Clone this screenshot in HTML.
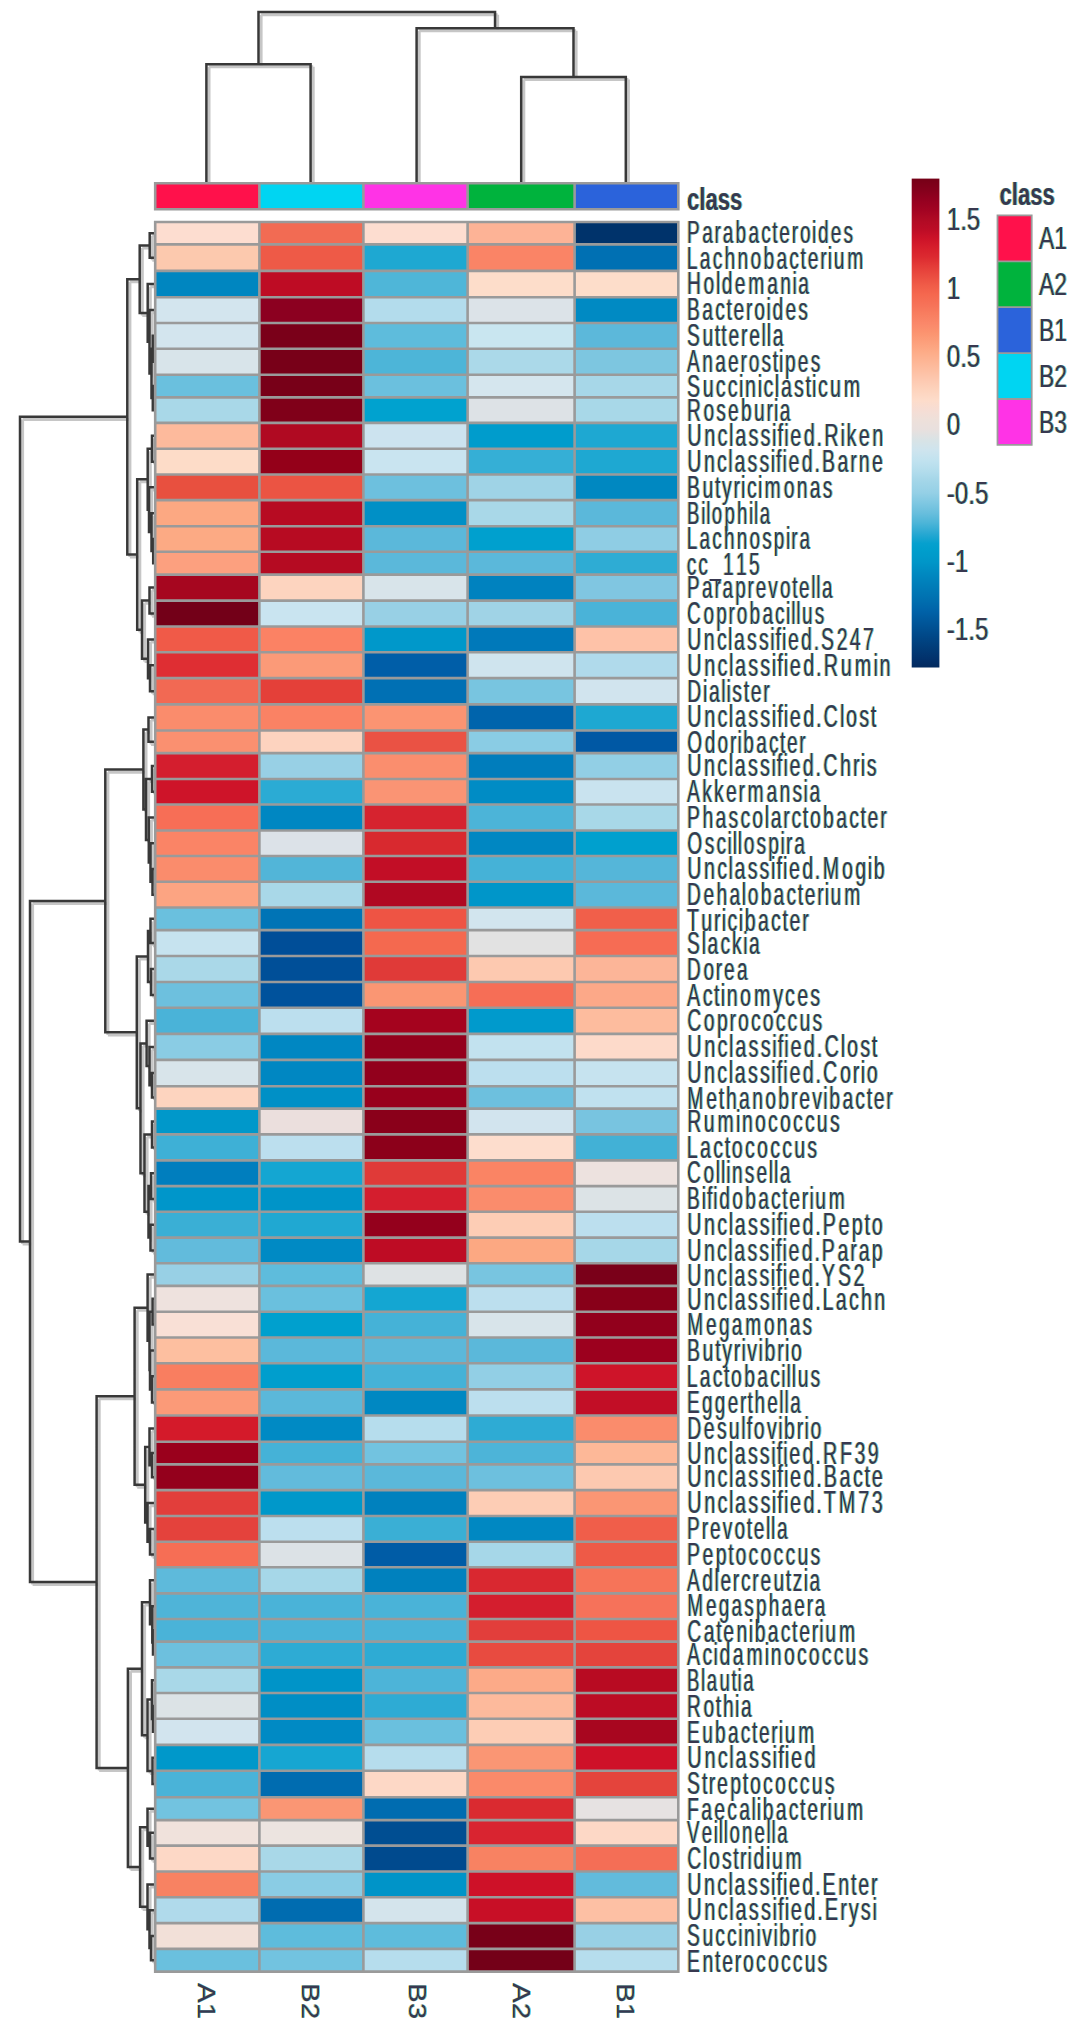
<!DOCTYPE html>
<html><head><meta charset="utf-8"><title>heatmap</title>
<style>
html,body{margin:0;padding:0;background:#fff;}
body{width:1073px;height:2034px;overflow:hidden;}
svg{display:block;filter:blur(0.45px);}
text{font-family:"Liberation Sans",sans-serif;}
</style></head><body>
<svg width="1073" height="2034" viewBox="0 0 1073 2034">
<rect x="0" y="0" width="1073" height="2034" fill="#fff"/>
<path d="M149.70 233.20L149.70 257.65M149.70 233.20L154.00 233.20M149.70 257.65L154.00 257.65M152.80 335.85L152.80 361.70M152.80 335.85L154.00 335.85M152.80 361.70L154.00 361.70M152.80 386.05L152.80 410.15M152.80 386.05L154.00 386.05M152.80 410.15L154.00 410.15M151.50 348.77L151.50 398.10M151.50 348.77L152.80 348.77M151.50 398.10L152.80 398.10M149.50 310.10L149.50 373.44M149.50 310.10L154.00 310.10M149.50 373.44L151.50 373.44M147.70 284.05L147.70 341.77M147.70 284.05L154.00 284.05M147.70 341.77L149.50 341.77M139.70 245.42L139.70 312.91M139.70 245.42L149.70 245.42M139.70 312.91L147.70 312.91M152.00 435.85L152.00 461.65M152.00 435.85L154.00 435.85M152.00 461.65L154.00 461.65M153.20 538.95L153.20 563.15M153.20 538.95L154.00 538.95M153.20 563.15L154.00 563.15M151.50 513.15L151.50 551.05M151.50 513.15L154.00 513.15M151.50 551.05L153.20 551.05M149.00 487.30L149.00 532.10M149.00 487.30L154.00 487.30M149.00 532.10L151.50 532.10M147.70 448.75L147.70 509.70M147.70 448.75L152.00 448.75M147.70 509.70L149.00 509.70M149.50 587.60L149.50 613.55M149.50 587.60L154.00 587.60M149.50 613.55L154.00 613.55M150.00 665.20L150.00 691.25M150.00 665.20L154.00 665.20M150.00 691.25L154.00 691.25M148.00 639.40L148.00 678.23M148.00 639.40L154.00 639.40M148.00 678.23L150.00 678.23M142.00 600.58L142.00 658.81M142.00 600.58L149.50 600.58M142.00 658.81L148.00 658.81M137.20 479.23L137.20 629.69M137.20 479.23L147.70 479.23M137.20 629.69L142.00 629.69M127.30 279.17L127.30 554.46M127.30 279.17L139.70 279.17M127.30 554.46L137.20 554.46M148.50 717.45L148.50 741.80M148.50 717.45L154.00 717.45M148.50 741.80L154.00 741.80M152.00 766.05L152.00 791.75M152.00 766.05L154.00 766.05M152.00 791.75L154.00 791.75M152.50 868.90L152.50 894.65M152.50 868.90L154.00 868.90M152.50 894.65L154.00 894.65M150.50 843.25L150.50 881.77M150.50 843.25L154.00 843.25M150.50 881.77L152.50 881.77M148.80 817.50L148.80 862.51M148.80 817.50L154.00 817.50M148.80 862.51L150.50 862.51M146.00 778.90L146.00 840.01M146.00 778.90L152.00 778.90M146.00 840.01L148.80 840.01M143.40 729.62L143.40 809.45M143.40 729.62L148.50 729.62M143.40 809.45L146.00 809.45M150.50 918.80L150.50 943.05M150.50 918.80L154.00 918.80M150.50 943.05L154.00 943.05M151.00 969.00L151.00 994.90M151.00 969.00L154.00 969.00M151.00 994.90L154.00 994.90M148.00 930.92L148.00 981.95M148.00 930.92L150.50 930.92M148.00 981.95L151.00 981.95M152.00 1073.10L152.00 1097.45M152.00 1073.10L154.00 1073.10M152.00 1097.45L154.00 1097.45M149.50 1046.90L149.50 1085.27M149.50 1046.90L154.00 1046.90M149.50 1085.27L152.00 1085.27M146.60 1020.85L146.60 1066.09M146.60 1020.85L154.00 1020.85M146.60 1066.09L149.50 1066.09M152.00 1121.50L152.00 1147.40M152.00 1121.50L154.00 1121.50M152.00 1147.40L154.00 1147.40M151.00 1173.25L151.00 1198.95M151.00 1173.25L154.00 1173.25M151.00 1198.95L154.00 1198.95M150.50 1224.70L150.50 1250.45M150.50 1224.70L154.00 1224.70M150.50 1250.45L154.00 1250.45M148.50 1186.10L148.50 1237.57M148.50 1186.10L151.00 1186.10M148.50 1237.57L150.50 1237.57M144.50 1134.45L144.50 1211.84M144.50 1134.45L152.00 1134.45M144.50 1211.84L148.50 1211.84M140.50 1043.47L140.50 1173.14M140.50 1043.47L146.60 1043.47M140.50 1173.14L144.50 1173.14M136.80 956.44L136.80 1108.31M136.80 956.44L148.00 956.44M136.80 1108.31L140.50 1108.31M105.30 769.54L105.30 1032.37M105.30 769.54L143.40 769.54M105.30 1032.37L136.80 1032.37M152.60 1298.80L152.60 1324.60M152.60 1298.80L154.00 1298.80M152.60 1324.60L154.00 1324.60M152.00 1376.35L152.00 1402.45M152.00 1376.35L154.00 1376.35M152.00 1402.45L154.00 1402.45M150.00 1350.40L150.00 1389.40M150.00 1350.40L154.00 1350.40M150.00 1389.40L152.00 1389.40M149.50 1311.70L149.50 1369.90M149.50 1311.70L152.60 1311.70M149.50 1369.90L150.00 1369.90M147.60 1274.60L147.60 1340.80M147.60 1274.60L154.00 1274.60M147.60 1340.80L149.50 1340.80M152.00 1453.05L152.00 1477.25M152.00 1453.05L154.00 1453.05M152.00 1477.25L154.00 1477.25M149.50 1428.60L149.50 1465.15M149.50 1428.60L154.00 1428.60M149.50 1465.15L152.00 1465.15M150.00 1528.90L150.00 1554.55M150.00 1528.90L154.00 1528.90M150.00 1554.55L154.00 1554.55M147.50 1503.05L147.50 1541.72M147.50 1503.05L154.00 1503.05M147.50 1541.72L150.00 1541.72M145.20 1446.88L145.20 1522.39M145.20 1446.88L149.50 1446.88M145.20 1522.39L147.50 1522.39M134.60 1307.70L134.60 1484.63M134.60 1307.70L147.60 1307.70M134.60 1484.63L145.20 1484.63M153.00 1630.30L153.00 1654.50M153.00 1630.30L154.00 1630.30M153.00 1654.50L154.00 1654.50M152.30 1606.20L152.30 1642.40M152.30 1606.20L154.00 1606.20M152.30 1642.40L153.00 1642.40M150.00 1580.35L150.00 1624.30M150.00 1580.35L154.00 1580.35M150.00 1624.30L152.30 1624.30M153.00 1705.90L153.00 1731.85M153.00 1705.90L154.00 1705.90M153.00 1731.85L154.00 1731.85M152.00 1680.20L152.00 1718.88M152.00 1680.20L154.00 1680.20M152.00 1718.88L153.00 1718.88M152.50 1757.80L152.50 1784.00M152.50 1757.80L154.00 1757.80M152.50 1784.00L154.00 1784.00M147.50 1699.54L147.50 1770.90M147.50 1699.54L152.00 1699.54M147.50 1770.90L152.50 1770.90M142.00 1602.33L142.00 1735.22M142.00 1602.33L150.00 1602.33M142.00 1735.22L147.50 1735.22M150.00 1832.85L150.00 1858.55M150.00 1832.85L154.00 1832.85M150.00 1858.55L154.00 1858.55M147.50 1808.70L147.50 1845.70M147.50 1808.70L154.00 1808.70M147.50 1845.70L150.00 1845.70M151.00 1936.00L151.00 1960.25M151.00 1936.00L154.00 1936.00M151.00 1960.25L154.00 1960.25M149.50 1910.20L149.50 1948.12M149.50 1910.20L154.00 1910.20M149.50 1948.12L151.00 1948.12M147.50 1884.40L147.50 1929.16M147.50 1884.40L154.00 1884.40M147.50 1929.16L149.50 1929.16M140.10 1827.20L140.10 1906.78M140.10 1827.20L147.50 1827.20M140.10 1906.78L147.50 1906.78M127.90 1668.77L127.90 1866.99M127.90 1668.77L142.00 1668.77M127.90 1866.99L140.10 1866.99M96.60 1396.17L96.60 1767.88M96.60 1396.17L134.60 1396.17M96.60 1767.88L127.90 1767.88M30.00 900.96L30.00 1582.02M30.00 900.96L105.30 900.96M30.00 1582.02L96.60 1582.02M20.00 416.81L20.00 1241.49M20.00 416.81L127.30 416.81M20.00 1241.49L30.00 1241.49M206.40 183.30L206.40 64.20M310.60 183.30L310.60 64.20M206.40 64.20L310.60 64.20M521.20 183.30L521.20 77.00M625.80 183.30L625.80 77.00M521.20 77.00L625.80 77.00M416.60 183.30L416.60 28.20M573.50 77.00L573.50 28.20M416.60 28.20L573.50 28.20M258.50 64.20L258.50 12.10M495.05 28.20L495.05 12.10M258.50 12.10L495.05 12.10" stroke="#c6c6c6" stroke-width="3" fill="none" transform="translate(2.6 2.6)"/>
<path d="M149.70 233.20L149.70 257.65M149.70 233.20L154.00 233.20M149.70 257.65L154.00 257.65M152.80 335.85L152.80 361.70M152.80 335.85L154.00 335.85M152.80 361.70L154.00 361.70M152.80 386.05L152.80 410.15M152.80 386.05L154.00 386.05M152.80 410.15L154.00 410.15M151.50 348.77L151.50 398.10M151.50 348.77L152.80 348.77M151.50 398.10L152.80 398.10M149.50 310.10L149.50 373.44M149.50 310.10L154.00 310.10M149.50 373.44L151.50 373.44M147.70 284.05L147.70 341.77M147.70 284.05L154.00 284.05M147.70 341.77L149.50 341.77M139.70 245.42L139.70 312.91M139.70 245.42L149.70 245.42M139.70 312.91L147.70 312.91M152.00 435.85L152.00 461.65M152.00 435.85L154.00 435.85M152.00 461.65L154.00 461.65M153.20 538.95L153.20 563.15M153.20 538.95L154.00 538.95M153.20 563.15L154.00 563.15M151.50 513.15L151.50 551.05M151.50 513.15L154.00 513.15M151.50 551.05L153.20 551.05M149.00 487.30L149.00 532.10M149.00 487.30L154.00 487.30M149.00 532.10L151.50 532.10M147.70 448.75L147.70 509.70M147.70 448.75L152.00 448.75M147.70 509.70L149.00 509.70M149.50 587.60L149.50 613.55M149.50 587.60L154.00 587.60M149.50 613.55L154.00 613.55M150.00 665.20L150.00 691.25M150.00 665.20L154.00 665.20M150.00 691.25L154.00 691.25M148.00 639.40L148.00 678.23M148.00 639.40L154.00 639.40M148.00 678.23L150.00 678.23M142.00 600.58L142.00 658.81M142.00 600.58L149.50 600.58M142.00 658.81L148.00 658.81M137.20 479.23L137.20 629.69M137.20 479.23L147.70 479.23M137.20 629.69L142.00 629.69M127.30 279.17L127.30 554.46M127.30 279.17L139.70 279.17M127.30 554.46L137.20 554.46M148.50 717.45L148.50 741.80M148.50 717.45L154.00 717.45M148.50 741.80L154.00 741.80M152.00 766.05L152.00 791.75M152.00 766.05L154.00 766.05M152.00 791.75L154.00 791.75M152.50 868.90L152.50 894.65M152.50 868.90L154.00 868.90M152.50 894.65L154.00 894.65M150.50 843.25L150.50 881.77M150.50 843.25L154.00 843.25M150.50 881.77L152.50 881.77M148.80 817.50L148.80 862.51M148.80 817.50L154.00 817.50M148.80 862.51L150.50 862.51M146.00 778.90L146.00 840.01M146.00 778.90L152.00 778.90M146.00 840.01L148.80 840.01M143.40 729.62L143.40 809.45M143.40 729.62L148.50 729.62M143.40 809.45L146.00 809.45M150.50 918.80L150.50 943.05M150.50 918.80L154.00 918.80M150.50 943.05L154.00 943.05M151.00 969.00L151.00 994.90M151.00 969.00L154.00 969.00M151.00 994.90L154.00 994.90M148.00 930.92L148.00 981.95M148.00 930.92L150.50 930.92M148.00 981.95L151.00 981.95M152.00 1073.10L152.00 1097.45M152.00 1073.10L154.00 1073.10M152.00 1097.45L154.00 1097.45M149.50 1046.90L149.50 1085.27M149.50 1046.90L154.00 1046.90M149.50 1085.27L152.00 1085.27M146.60 1020.85L146.60 1066.09M146.60 1020.85L154.00 1020.85M146.60 1066.09L149.50 1066.09M152.00 1121.50L152.00 1147.40M152.00 1121.50L154.00 1121.50M152.00 1147.40L154.00 1147.40M151.00 1173.25L151.00 1198.95M151.00 1173.25L154.00 1173.25M151.00 1198.95L154.00 1198.95M150.50 1224.70L150.50 1250.45M150.50 1224.70L154.00 1224.70M150.50 1250.45L154.00 1250.45M148.50 1186.10L148.50 1237.57M148.50 1186.10L151.00 1186.10M148.50 1237.57L150.50 1237.57M144.50 1134.45L144.50 1211.84M144.50 1134.45L152.00 1134.45M144.50 1211.84L148.50 1211.84M140.50 1043.47L140.50 1173.14M140.50 1043.47L146.60 1043.47M140.50 1173.14L144.50 1173.14M136.80 956.44L136.80 1108.31M136.80 956.44L148.00 956.44M136.80 1108.31L140.50 1108.31M105.30 769.54L105.30 1032.37M105.30 769.54L143.40 769.54M105.30 1032.37L136.80 1032.37M152.60 1298.80L152.60 1324.60M152.60 1298.80L154.00 1298.80M152.60 1324.60L154.00 1324.60M152.00 1376.35L152.00 1402.45M152.00 1376.35L154.00 1376.35M152.00 1402.45L154.00 1402.45M150.00 1350.40L150.00 1389.40M150.00 1350.40L154.00 1350.40M150.00 1389.40L152.00 1389.40M149.50 1311.70L149.50 1369.90M149.50 1311.70L152.60 1311.70M149.50 1369.90L150.00 1369.90M147.60 1274.60L147.60 1340.80M147.60 1274.60L154.00 1274.60M147.60 1340.80L149.50 1340.80M152.00 1453.05L152.00 1477.25M152.00 1453.05L154.00 1453.05M152.00 1477.25L154.00 1477.25M149.50 1428.60L149.50 1465.15M149.50 1428.60L154.00 1428.60M149.50 1465.15L152.00 1465.15M150.00 1528.90L150.00 1554.55M150.00 1528.90L154.00 1528.90M150.00 1554.55L154.00 1554.55M147.50 1503.05L147.50 1541.72M147.50 1503.05L154.00 1503.05M147.50 1541.72L150.00 1541.72M145.20 1446.88L145.20 1522.39M145.20 1446.88L149.50 1446.88M145.20 1522.39L147.50 1522.39M134.60 1307.70L134.60 1484.63M134.60 1307.70L147.60 1307.70M134.60 1484.63L145.20 1484.63M153.00 1630.30L153.00 1654.50M153.00 1630.30L154.00 1630.30M153.00 1654.50L154.00 1654.50M152.30 1606.20L152.30 1642.40M152.30 1606.20L154.00 1606.20M152.30 1642.40L153.00 1642.40M150.00 1580.35L150.00 1624.30M150.00 1580.35L154.00 1580.35M150.00 1624.30L152.30 1624.30M153.00 1705.90L153.00 1731.85M153.00 1705.90L154.00 1705.90M153.00 1731.85L154.00 1731.85M152.00 1680.20L152.00 1718.88M152.00 1680.20L154.00 1680.20M152.00 1718.88L153.00 1718.88M152.50 1757.80L152.50 1784.00M152.50 1757.80L154.00 1757.80M152.50 1784.00L154.00 1784.00M147.50 1699.54L147.50 1770.90M147.50 1699.54L152.00 1699.54M147.50 1770.90L152.50 1770.90M142.00 1602.33L142.00 1735.22M142.00 1602.33L150.00 1602.33M142.00 1735.22L147.50 1735.22M150.00 1832.85L150.00 1858.55M150.00 1832.85L154.00 1832.85M150.00 1858.55L154.00 1858.55M147.50 1808.70L147.50 1845.70M147.50 1808.70L154.00 1808.70M147.50 1845.70L150.00 1845.70M151.00 1936.00L151.00 1960.25M151.00 1936.00L154.00 1936.00M151.00 1960.25L154.00 1960.25M149.50 1910.20L149.50 1948.12M149.50 1910.20L154.00 1910.20M149.50 1948.12L151.00 1948.12M147.50 1884.40L147.50 1929.16M147.50 1884.40L154.00 1884.40M147.50 1929.16L149.50 1929.16M140.10 1827.20L140.10 1906.78M140.10 1827.20L147.50 1827.20M140.10 1906.78L147.50 1906.78M127.90 1668.77L127.90 1866.99M127.90 1668.77L142.00 1668.77M127.90 1866.99L140.10 1866.99M96.60 1396.17L96.60 1767.88M96.60 1396.17L134.60 1396.17M96.60 1767.88L127.90 1767.88M30.00 900.96L30.00 1582.02M30.00 900.96L105.30 900.96M30.00 1582.02L96.60 1582.02M20.00 416.81L20.00 1241.49M20.00 416.81L127.30 416.81M20.00 1241.49L30.00 1241.49M206.40 183.30L206.40 64.20M310.60 183.30L310.60 64.20M206.40 64.20L310.60 64.20M521.20 183.30L521.20 77.00M625.80 183.30L625.80 77.00M521.20 77.00L625.80 77.00M416.60 183.30L416.60 28.20M573.50 77.00L573.50 28.20M416.60 28.20L573.50 28.20M258.50 64.20L258.50 12.10M495.05 28.20L495.05 12.10M258.50 12.10L495.05 12.10" stroke="#383838" stroke-width="2.5" fill="none" stroke-linecap="square"/>
<rect x="155.2" y="222.0" width="104.2" height="22.4" fill="#FDDDD0"/>
<rect x="259.4" y="222.0" width="104.0" height="22.4" fill="#F26B53"/>
<rect x="363.4" y="222.0" width="104.2" height="22.4" fill="#FDDDD0"/>
<rect x="467.6" y="222.0" width="107.0" height="22.4" fill="#FDB396"/>
<rect x="574.6" y="222.0" width="103.7" height="22.4" fill="#00336B"/>
<rect x="155.2" y="244.4" width="104.2" height="26.5" fill="#FCC9AE"/>
<rect x="259.4" y="244.4" width="104.0" height="26.5" fill="#EE5A47"/>
<rect x="363.4" y="244.4" width="104.2" height="26.5" fill="#1EA8D2"/>
<rect x="467.6" y="244.4" width="107.0" height="26.5" fill="#FA8466"/>
<rect x="574.6" y="244.4" width="103.7" height="26.5" fill="#0070B3"/>
<rect x="155.2" y="270.9" width="104.2" height="26.3" fill="#0086C0"/>
<rect x="259.4" y="270.9" width="104.0" height="26.3" fill="#BE0C24"/>
<rect x="363.4" y="270.9" width="104.2" height="26.3" fill="#4FB6D8"/>
<rect x="467.6" y="270.9" width="107.0" height="26.3" fill="#FDDDCA"/>
<rect x="574.6" y="270.9" width="103.7" height="26.3" fill="#FDDDCA"/>
<rect x="155.2" y="297.2" width="104.2" height="25.8" fill="#D3E5EE"/>
<rect x="259.4" y="297.2" width="104.0" height="25.8" fill="#8C0020"/>
<rect x="363.4" y="297.2" width="104.2" height="25.8" fill="#B3DCEC"/>
<rect x="467.6" y="297.2" width="107.0" height="25.8" fill="#DCE3E8"/>
<rect x="574.6" y="297.2" width="103.7" height="25.8" fill="#008AC3"/>
<rect x="155.2" y="323.0" width="104.2" height="25.7" fill="#D3E5EE"/>
<rect x="259.4" y="323.0" width="104.0" height="25.7" fill="#7A0019"/>
<rect x="363.4" y="323.0" width="104.2" height="25.7" fill="#5EBCDC"/>
<rect x="467.6" y="323.0" width="107.0" height="25.7" fill="#C9E6F0"/>
<rect x="574.6" y="323.0" width="103.7" height="25.7" fill="#5CB8DA"/>
<rect x="155.2" y="348.7" width="104.2" height="26.0" fill="#D8E4EA"/>
<rect x="259.4" y="348.7" width="104.0" height="26.0" fill="#780018"/>
<rect x="363.4" y="348.7" width="104.2" height="26.0" fill="#4DB5D8"/>
<rect x="467.6" y="348.7" width="107.0" height="26.0" fill="#ABD9E9"/>
<rect x="574.6" y="348.7" width="103.7" height="26.0" fill="#7DC6E0"/>
<rect x="155.2" y="374.7" width="104.2" height="22.7" fill="#6AC0DE"/>
<rect x="259.4" y="374.7" width="104.0" height="22.7" fill="#780018"/>
<rect x="363.4" y="374.7" width="104.2" height="22.7" fill="#6BC0DE"/>
<rect x="467.6" y="374.7" width="107.0" height="22.7" fill="#D5E6EE"/>
<rect x="574.6" y="374.7" width="103.7" height="22.7" fill="#A7D7E8"/>
<rect x="155.2" y="397.4" width="104.2" height="25.5" fill="#A9D8E8"/>
<rect x="259.4" y="397.4" width="104.0" height="25.5" fill="#800019"/>
<rect x="363.4" y="397.4" width="104.2" height="25.5" fill="#00A2CF"/>
<rect x="467.6" y="397.4" width="107.0" height="25.5" fill="#DDE2E6"/>
<rect x="574.6" y="397.4" width="103.7" height="25.5" fill="#A8D8E8"/>
<rect x="155.2" y="422.9" width="104.2" height="25.9" fill="#FDBA9C"/>
<rect x="259.4" y="422.9" width="104.0" height="25.9" fill="#B00A22"/>
<rect x="363.4" y="422.9" width="104.2" height="25.9" fill="#CCE3EF"/>
<rect x="467.6" y="422.9" width="107.0" height="25.9" fill="#009CCC"/>
<rect x="574.6" y="422.9" width="103.7" height="25.9" fill="#1EA8D2"/>
<rect x="155.2" y="448.8" width="104.2" height="25.7" fill="#FDDCC8"/>
<rect x="259.4" y="448.8" width="104.0" height="25.7" fill="#940019"/>
<rect x="363.4" y="448.8" width="104.2" height="25.7" fill="#C9E4F0"/>
<rect x="467.6" y="448.8" width="107.0" height="25.7" fill="#35AFD6"/>
<rect x="574.6" y="448.8" width="103.7" height="25.7" fill="#1EA8D2"/>
<rect x="155.2" y="474.5" width="104.2" height="25.6" fill="#E8503F"/>
<rect x="259.4" y="474.5" width="104.0" height="25.6" fill="#EB5443"/>
<rect x="363.4" y="474.5" width="104.2" height="25.6" fill="#6DC0DE"/>
<rect x="467.6" y="474.5" width="107.0" height="25.6" fill="#9FD3E6"/>
<rect x="574.6" y="474.5" width="103.7" height="25.6" fill="#0088C1"/>
<rect x="155.2" y="500.1" width="104.2" height="26.1" fill="#FCA882"/>
<rect x="259.4" y="500.1" width="104.0" height="26.1" fill="#B70B22"/>
<rect x="363.4" y="500.1" width="104.2" height="26.1" fill="#0090C6"/>
<rect x="467.6" y="500.1" width="107.0" height="26.1" fill="#A9D8E8"/>
<rect x="574.6" y="500.1" width="103.7" height="26.1" fill="#5BB8DA"/>
<rect x="155.2" y="526.2" width="104.2" height="25.5" fill="#FCAA84"/>
<rect x="259.4" y="526.2" width="104.0" height="25.5" fill="#B70B22"/>
<rect x="363.4" y="526.2" width="104.2" height="25.5" fill="#5BB8DA"/>
<rect x="467.6" y="526.2" width="107.0" height="25.5" fill="#00A0CE"/>
<rect x="574.6" y="526.2" width="103.7" height="25.5" fill="#8FCDE4"/>
<rect x="155.2" y="551.7" width="104.2" height="22.9" fill="#FCA07F"/>
<rect x="259.4" y="551.7" width="104.0" height="22.9" fill="#B50B22"/>
<rect x="363.4" y="551.7" width="104.2" height="22.9" fill="#5BB8DA"/>
<rect x="467.6" y="551.7" width="107.0" height="22.9" fill="#5BB8DA"/>
<rect x="574.6" y="551.7" width="103.7" height="22.9" fill="#2EACD4"/>
<rect x="155.2" y="574.6" width="104.2" height="26.0" fill="#A6061F"/>
<rect x="259.4" y="574.6" width="104.0" height="26.0" fill="#FDD4BF"/>
<rect x="363.4" y="574.6" width="104.2" height="26.0" fill="#D8E4EA"/>
<rect x="467.6" y="574.6" width="107.0" height="26.0" fill="#0082BF"/>
<rect x="574.6" y="574.6" width="103.7" height="26.0" fill="#80C6E1"/>
<rect x="155.2" y="600.6" width="104.2" height="25.9" fill="#730018"/>
<rect x="259.4" y="600.6" width="104.0" height="25.9" fill="#C9E4F0"/>
<rect x="363.4" y="600.6" width="104.2" height="25.9" fill="#98D0E5"/>
<rect x="467.6" y="600.6" width="107.0" height="25.9" fill="#A0D3E6"/>
<rect x="574.6" y="600.6" width="103.7" height="25.9" fill="#4AB3D8"/>
<rect x="155.2" y="626.5" width="104.2" height="25.8" fill="#F05A48"/>
<rect x="259.4" y="626.5" width="104.0" height="25.8" fill="#FB8264"/>
<rect x="363.4" y="626.5" width="104.2" height="25.8" fill="#0098CA"/>
<rect x="467.6" y="626.5" width="107.0" height="25.8" fill="#0079BA"/>
<rect x="574.6" y="626.5" width="103.7" height="25.8" fill="#FEC2A8"/>
<rect x="155.2" y="652.3" width="104.2" height="25.8" fill="#DF2E33"/>
<rect x="259.4" y="652.3" width="104.0" height="25.8" fill="#FB9A78"/>
<rect x="363.4" y="652.3" width="104.2" height="25.8" fill="#005EA8"/>
<rect x="467.6" y="652.3" width="107.0" height="25.8" fill="#CFE4EE"/>
<rect x="574.6" y="652.3" width="103.7" height="25.8" fill="#B0DAEB"/>
<rect x="155.2" y="678.1" width="104.2" height="26.3" fill="#F26953"/>
<rect x="259.4" y="678.1" width="104.0" height="26.3" fill="#E44039"/>
<rect x="363.4" y="678.1" width="104.2" height="26.3" fill="#0070B4"/>
<rect x="467.6" y="678.1" width="107.0" height="26.3" fill="#78C5E0"/>
<rect x="574.6" y="678.1" width="103.7" height="26.3" fill="#D1E4EE"/>
<rect x="155.2" y="704.4" width="104.2" height="26.1" fill="#FA8C6C"/>
<rect x="259.4" y="704.4" width="104.0" height="26.1" fill="#FA8264"/>
<rect x="363.4" y="704.4" width="104.2" height="26.1" fill="#FB9472"/>
<rect x="467.6" y="704.4" width="107.0" height="26.1" fill="#0064AC"/>
<rect x="574.6" y="704.4" width="103.7" height="26.1" fill="#1EA8D2"/>
<rect x="155.2" y="730.5" width="104.2" height="22.6" fill="#FA9070"/>
<rect x="259.4" y="730.5" width="104.0" height="22.6" fill="#FDD3BF"/>
<rect x="363.4" y="730.5" width="104.2" height="22.6" fill="#EA5244"/>
<rect x="467.6" y="730.5" width="107.0" height="22.6" fill="#8ACCE4"/>
<rect x="574.6" y="730.5" width="103.7" height="22.6" fill="#0058A4"/>
<rect x="155.2" y="753.1" width="104.2" height="25.9" fill="#D41E2E"/>
<rect x="259.4" y="753.1" width="104.0" height="25.9" fill="#98D0E5"/>
<rect x="363.4" y="753.1" width="104.2" height="25.9" fill="#FA8E6E"/>
<rect x="467.6" y="753.1" width="107.0" height="25.9" fill="#007DBC"/>
<rect x="574.6" y="753.1" width="103.7" height="25.9" fill="#92CFE5"/>
<rect x="155.2" y="779.0" width="104.2" height="25.5" fill="#CE1429"/>
<rect x="259.4" y="779.0" width="104.0" height="25.5" fill="#2BABD4"/>
<rect x="363.4" y="779.0" width="104.2" height="25.5" fill="#FA9474"/>
<rect x="467.6" y="779.0" width="107.0" height="25.5" fill="#008CC5"/>
<rect x="574.6" y="779.0" width="103.7" height="25.5" fill="#C9E3EF"/>
<rect x="155.2" y="804.5" width="104.2" height="26.0" fill="#F76E56"/>
<rect x="259.4" y="804.5" width="104.0" height="26.0" fill="#0087C2"/>
<rect x="363.4" y="804.5" width="104.2" height="26.0" fill="#D6232F"/>
<rect x="467.6" y="804.5" width="107.0" height="26.0" fill="#4CB4D8"/>
<rect x="574.6" y="804.5" width="103.7" height="26.0" fill="#A8D8E8"/>
<rect x="155.2" y="830.5" width="104.2" height="25.5" fill="#FA8466"/>
<rect x="259.4" y="830.5" width="104.0" height="25.5" fill="#DCE2E8"/>
<rect x="363.4" y="830.5" width="104.2" height="25.5" fill="#D8292F"/>
<rect x="467.6" y="830.5" width="107.0" height="25.5" fill="#0087C2"/>
<rect x="574.6" y="830.5" width="103.7" height="25.5" fill="#00A0CE"/>
<rect x="155.2" y="856.0" width="104.2" height="25.8" fill="#FA8C6C"/>
<rect x="259.4" y="856.0" width="104.0" height="25.8" fill="#52B5D8"/>
<rect x="363.4" y="856.0" width="104.2" height="25.8" fill="#C20E26"/>
<rect x="467.6" y="856.0" width="107.0" height="25.8" fill="#45B2D7"/>
<rect x="574.6" y="856.0" width="103.7" height="25.8" fill="#55B6D9"/>
<rect x="155.2" y="881.8" width="104.2" height="25.7" fill="#FCA482"/>
<rect x="259.4" y="881.8" width="104.0" height="25.7" fill="#A9D8E8"/>
<rect x="363.4" y="881.8" width="104.2" height="25.7" fill="#B00822"/>
<rect x="467.6" y="881.8" width="107.0" height="25.7" fill="#0096C9"/>
<rect x="574.6" y="881.8" width="103.7" height="25.7" fill="#5BB8DA"/>
<rect x="155.2" y="907.5" width="104.2" height="22.6" fill="#6AC0DE"/>
<rect x="259.4" y="907.5" width="104.0" height="22.6" fill="#0074B6"/>
<rect x="363.4" y="907.5" width="104.2" height="22.6" fill="#EE5444"/>
<rect x="467.6" y="907.5" width="107.0" height="22.6" fill="#D2E5EE"/>
<rect x="574.6" y="907.5" width="103.7" height="22.6" fill="#F15F4A"/>
<rect x="155.2" y="930.1" width="104.2" height="25.9" fill="#C6E3EF"/>
<rect x="259.4" y="930.1" width="104.0" height="25.9" fill="#004E98"/>
<rect x="363.4" y="930.1" width="104.2" height="25.9" fill="#F4694F"/>
<rect x="467.6" y="930.1" width="107.0" height="25.9" fill="#E2E2E2"/>
<rect x="574.6" y="930.1" width="103.7" height="25.9" fill="#F66C54"/>
<rect x="155.2" y="956.0" width="104.2" height="26.0" fill="#AAD8E8"/>
<rect x="259.4" y="956.0" width="104.0" height="26.0" fill="#004F98"/>
<rect x="363.4" y="956.0" width="104.2" height="26.0" fill="#E03A38"/>
<rect x="467.6" y="956.0" width="107.0" height="26.0" fill="#FDC9B0"/>
<rect x="574.6" y="956.0" width="103.7" height="26.0" fill="#FCB598"/>
<rect x="155.2" y="982.0" width="104.2" height="25.8" fill="#6DC0DE"/>
<rect x="259.4" y="982.0" width="104.0" height="25.8" fill="#00529C"/>
<rect x="363.4" y="982.0" width="104.2" height="25.8" fill="#FA9673"/>
<rect x="467.6" y="982.0" width="107.0" height="25.8" fill="#F66E56"/>
<rect x="574.6" y="982.0" width="103.7" height="25.8" fill="#FCA888"/>
<rect x="155.2" y="1007.8" width="104.2" height="26.1" fill="#4AB3D8"/>
<rect x="259.4" y="1007.8" width="104.0" height="26.1" fill="#BCDFEE"/>
<rect x="363.4" y="1007.8" width="104.2" height="26.1" fill="#A5031E"/>
<rect x="467.6" y="1007.8" width="107.0" height="26.1" fill="#009ACC"/>
<rect x="574.6" y="1007.8" width="103.7" height="26.1" fill="#FDBC9E"/>
<rect x="155.2" y="1033.9" width="104.2" height="26.0" fill="#8ACCE4"/>
<rect x="259.4" y="1033.9" width="104.0" height="26.0" fill="#0087C2"/>
<rect x="363.4" y="1033.9" width="104.2" height="26.0" fill="#94001C"/>
<rect x="467.6" y="1033.9" width="107.0" height="26.0" fill="#C2E2EF"/>
<rect x="574.6" y="1033.9" width="103.7" height="26.0" fill="#FDDACA"/>
<rect x="155.2" y="1059.9" width="104.2" height="26.4" fill="#D8E4EA"/>
<rect x="259.4" y="1059.9" width="104.0" height="26.4" fill="#0087C2"/>
<rect x="363.4" y="1059.9" width="104.2" height="26.4" fill="#92001C"/>
<rect x="467.6" y="1059.9" width="107.0" height="26.4" fill="#BCDFEE"/>
<rect x="574.6" y="1059.9" width="103.7" height="26.4" fill="#C6E3EF"/>
<rect x="155.2" y="1086.3" width="104.2" height="22.3" fill="#FDD4BF"/>
<rect x="259.4" y="1086.3" width="104.0" height="22.3" fill="#0090C6"/>
<rect x="363.4" y="1086.3" width="104.2" height="22.3" fill="#98001C"/>
<rect x="467.6" y="1086.3" width="107.0" height="22.3" fill="#6DC0DE"/>
<rect x="574.6" y="1086.3" width="103.7" height="22.3" fill="#C0E1EF"/>
<rect x="155.2" y="1108.6" width="104.2" height="25.8" fill="#0098CA"/>
<rect x="259.4" y="1108.6" width="104.0" height="25.8" fill="#EBDFDD"/>
<rect x="363.4" y="1108.6" width="104.2" height="25.8" fill="#8A001A"/>
<rect x="467.6" y="1108.6" width="107.0" height="25.8" fill="#D2E4EE"/>
<rect x="574.6" y="1108.6" width="103.7" height="25.8" fill="#78C4E0"/>
<rect x="155.2" y="1134.4" width="104.2" height="26.0" fill="#3EB0D6"/>
<rect x="259.4" y="1134.4" width="104.0" height="26.0" fill="#BCDFEE"/>
<rect x="363.4" y="1134.4" width="104.2" height="26.0" fill="#8C001A"/>
<rect x="467.6" y="1134.4" width="107.0" height="26.0" fill="#FDDDCD"/>
<rect x="574.6" y="1134.4" width="103.7" height="26.0" fill="#42B1D6"/>
<rect x="155.2" y="1160.4" width="104.2" height="25.7" fill="#007EBE"/>
<rect x="259.4" y="1160.4" width="104.0" height="25.7" fill="#14A6D2"/>
<rect x="363.4" y="1160.4" width="104.2" height="25.7" fill="#E03A38"/>
<rect x="467.6" y="1160.4" width="107.0" height="25.7" fill="#FA8464"/>
<rect x="574.6" y="1160.4" width="103.7" height="25.7" fill="#EDE2DF"/>
<rect x="155.2" y="1186.1" width="104.2" height="25.7" fill="#0096CA"/>
<rect x="259.4" y="1186.1" width="104.0" height="25.7" fill="#0094C8"/>
<rect x="363.4" y="1186.1" width="104.2" height="25.7" fill="#D41E2E"/>
<rect x="467.6" y="1186.1" width="107.0" height="25.7" fill="#FA8C6C"/>
<rect x="574.6" y="1186.1" width="103.7" height="25.7" fill="#DCE3E6"/>
<rect x="155.2" y="1211.8" width="104.2" height="25.8" fill="#3AAFD5"/>
<rect x="259.4" y="1211.8" width="104.0" height="25.8" fill="#20A8D2"/>
<rect x="363.4" y="1211.8" width="104.2" height="25.8" fill="#94001C"/>
<rect x="467.6" y="1211.8" width="107.0" height="25.8" fill="#FDCDB5"/>
<rect x="574.6" y="1211.8" width="103.7" height="25.8" fill="#BCDFEE"/>
<rect x="155.2" y="1237.6" width="104.2" height="25.7" fill="#62BBDC"/>
<rect x="259.4" y="1237.6" width="104.0" height="25.7" fill="#008AC4"/>
<rect x="363.4" y="1237.6" width="104.2" height="25.7" fill="#BE0C24"/>
<rect x="467.6" y="1237.6" width="107.0" height="25.7" fill="#FCA882"/>
<rect x="574.6" y="1237.6" width="103.7" height="25.7" fill="#A6D7E8"/>
<rect x="155.2" y="1263.3" width="104.2" height="22.6" fill="#98D0E5"/>
<rect x="259.4" y="1263.3" width="104.0" height="22.6" fill="#5EBCDC"/>
<rect x="363.4" y="1263.3" width="104.2" height="22.6" fill="#DEE2E4"/>
<rect x="467.6" y="1263.3" width="107.0" height="22.6" fill="#78C5E0"/>
<rect x="574.6" y="1263.3" width="103.7" height="22.6" fill="#7A0019"/>
<rect x="155.2" y="1285.9" width="104.2" height="25.8" fill="#EEE2DE"/>
<rect x="259.4" y="1285.9" width="104.0" height="25.8" fill="#6AC0DE"/>
<rect x="363.4" y="1285.9" width="104.2" height="25.8" fill="#14A6D2"/>
<rect x="467.6" y="1285.9" width="107.0" height="25.8" fill="#BCDFEE"/>
<rect x="574.6" y="1285.9" width="103.7" height="25.8" fill="#880019"/>
<rect x="155.2" y="1311.7" width="104.2" height="25.8" fill="#F9E0D6"/>
<rect x="259.4" y="1311.7" width="104.0" height="25.8" fill="#00A0CE"/>
<rect x="363.4" y="1311.7" width="104.2" height="25.8" fill="#45B2D7"/>
<rect x="467.6" y="1311.7" width="107.0" height="25.8" fill="#D8E4EA"/>
<rect x="574.6" y="1311.7" width="103.7" height="25.8" fill="#92001C"/>
<rect x="155.2" y="1337.5" width="104.2" height="25.8" fill="#FDBFA0"/>
<rect x="259.4" y="1337.5" width="104.0" height="25.8" fill="#5BB8DA"/>
<rect x="363.4" y="1337.5" width="104.2" height="25.8" fill="#5BB8DA"/>
<rect x="467.6" y="1337.5" width="107.0" height="25.8" fill="#5BB8DA"/>
<rect x="574.6" y="1337.5" width="103.7" height="25.8" fill="#9C001E"/>
<rect x="155.2" y="1363.3" width="104.2" height="26.1" fill="#F97E60"/>
<rect x="259.4" y="1363.3" width="104.0" height="26.1" fill="#009ECD"/>
<rect x="363.4" y="1363.3" width="104.2" height="26.1" fill="#45B2D7"/>
<rect x="467.6" y="1363.3" width="107.0" height="26.1" fill="#92CFE5"/>
<rect x="574.6" y="1363.3" width="103.7" height="26.1" fill="#CE1429"/>
<rect x="155.2" y="1389.4" width="104.2" height="26.1" fill="#FB9A78"/>
<rect x="259.4" y="1389.4" width="104.0" height="26.1" fill="#5BB8DA"/>
<rect x="363.4" y="1389.4" width="104.2" height="26.1" fill="#0088C2"/>
<rect x="467.6" y="1389.4" width="107.0" height="26.1" fill="#BCDFEE"/>
<rect x="574.6" y="1389.4" width="103.7" height="26.1" fill="#C20E26"/>
<rect x="155.2" y="1415.5" width="104.2" height="26.2" fill="#D41A2A"/>
<rect x="259.4" y="1415.5" width="104.0" height="26.2" fill="#008AC4"/>
<rect x="363.4" y="1415.5" width="104.2" height="26.2" fill="#B6DDED"/>
<rect x="467.6" y="1415.5" width="107.0" height="26.2" fill="#2EABD4"/>
<rect x="574.6" y="1415.5" width="103.7" height="26.2" fill="#FA8C6C"/>
<rect x="155.2" y="1441.7" width="104.2" height="22.7" fill="#9A001C"/>
<rect x="259.4" y="1441.7" width="104.0" height="22.7" fill="#45B2D7"/>
<rect x="363.4" y="1441.7" width="104.2" height="22.7" fill="#72C3E0"/>
<rect x="467.6" y="1441.7" width="107.0" height="22.7" fill="#4DB4D8"/>
<rect x="574.6" y="1441.7" width="103.7" height="22.7" fill="#FDB898"/>
<rect x="155.2" y="1464.4" width="104.2" height="25.7" fill="#94001C"/>
<rect x="259.4" y="1464.4" width="104.0" height="25.7" fill="#62BBDC"/>
<rect x="363.4" y="1464.4" width="104.2" height="25.7" fill="#5BB8DA"/>
<rect x="467.6" y="1464.4" width="107.0" height="25.7" fill="#6DC0DE"/>
<rect x="574.6" y="1464.4" width="103.7" height="25.7" fill="#FDC9B0"/>
<rect x="155.2" y="1490.1" width="104.2" height="25.9" fill="#E23E3B"/>
<rect x="259.4" y="1490.1" width="104.0" height="25.9" fill="#0098CA"/>
<rect x="363.4" y="1490.1" width="104.2" height="25.9" fill="#0081BE"/>
<rect x="467.6" y="1490.1" width="107.0" height="25.9" fill="#FDCDB5"/>
<rect x="574.6" y="1490.1" width="103.7" height="25.9" fill="#FA9674"/>
<rect x="155.2" y="1516.0" width="104.2" height="25.8" fill="#E4423C"/>
<rect x="259.4" y="1516.0" width="104.0" height="25.8" fill="#BCDFEE"/>
<rect x="363.4" y="1516.0" width="104.2" height="25.8" fill="#3AAFD5"/>
<rect x="467.6" y="1516.0" width="107.0" height="25.8" fill="#0088C2"/>
<rect x="574.6" y="1516.0" width="103.7" height="25.8" fill="#F05E4A"/>
<rect x="155.2" y="1541.8" width="104.2" height="25.5" fill="#F66E55"/>
<rect x="259.4" y="1541.8" width="104.0" height="25.5" fill="#DCE2E6"/>
<rect x="363.4" y="1541.8" width="104.2" height="25.5" fill="#005CA6"/>
<rect x="467.6" y="1541.8" width="107.0" height="25.5" fill="#A6D7E8"/>
<rect x="574.6" y="1541.8" width="103.7" height="25.5" fill="#EE5A47"/>
<rect x="155.2" y="1567.3" width="104.2" height="26.1" fill="#5EBADB"/>
<rect x="259.4" y="1567.3" width="104.0" height="26.1" fill="#A6D7E8"/>
<rect x="363.4" y="1567.3" width="104.2" height="26.1" fill="#0081BE"/>
<rect x="467.6" y="1567.3" width="107.0" height="26.1" fill="#D92830"/>
<rect x="574.6" y="1567.3" width="103.7" height="26.1" fill="#F67459"/>
<rect x="155.2" y="1593.4" width="104.2" height="25.6" fill="#4FB4D8"/>
<rect x="259.4" y="1593.4" width="104.0" height="25.6" fill="#4AB3D8"/>
<rect x="363.4" y="1593.4" width="104.2" height="25.6" fill="#4AB3D8"/>
<rect x="467.6" y="1593.4" width="107.0" height="25.6" fill="#D41E2E"/>
<rect x="574.6" y="1593.4" width="103.7" height="25.6" fill="#F6725A"/>
<rect x="155.2" y="1619.0" width="104.2" height="22.6" fill="#4AB3D8"/>
<rect x="259.4" y="1619.0" width="104.0" height="22.6" fill="#4AB3D8"/>
<rect x="363.4" y="1619.0" width="104.2" height="22.6" fill="#4AB3D8"/>
<rect x="467.6" y="1619.0" width="107.0" height="22.6" fill="#E23E3B"/>
<rect x="574.6" y="1619.0" width="103.7" height="22.6" fill="#EE5544"/>
<rect x="155.2" y="1641.6" width="104.2" height="25.8" fill="#6DC0DE"/>
<rect x="259.4" y="1641.6" width="104.0" height="25.8" fill="#2EABD4"/>
<rect x="363.4" y="1641.6" width="104.2" height="25.8" fill="#2EABD4"/>
<rect x="467.6" y="1641.6" width="107.0" height="25.8" fill="#E84B40"/>
<rect x="574.6" y="1641.6" width="103.7" height="25.8" fill="#E4443C"/>
<rect x="155.2" y="1667.4" width="104.2" height="25.6" fill="#A9D8E8"/>
<rect x="259.4" y="1667.4" width="104.0" height="25.6" fill="#0094C8"/>
<rect x="363.4" y="1667.4" width="104.2" height="25.6" fill="#4DB4D8"/>
<rect x="467.6" y="1667.4" width="107.0" height="25.6" fill="#FCAA88"/>
<rect x="574.6" y="1667.4" width="103.7" height="25.6" fill="#B80B22"/>
<rect x="155.2" y="1693.0" width="104.2" height="25.8" fill="#DCE3E6"/>
<rect x="259.4" y="1693.0" width="104.0" height="25.8" fill="#008EC5"/>
<rect x="363.4" y="1693.0" width="104.2" height="25.8" fill="#2EABD4"/>
<rect x="467.6" y="1693.0" width="107.0" height="25.8" fill="#FDBA9C"/>
<rect x="574.6" y="1693.0" width="103.7" height="25.8" fill="#BC0C24"/>
<rect x="155.2" y="1718.8" width="104.2" height="26.1" fill="#D2E4EE"/>
<rect x="259.4" y="1718.8" width="104.0" height="26.1" fill="#008AC4"/>
<rect x="363.4" y="1718.8" width="104.2" height="26.1" fill="#6AC0DE"/>
<rect x="467.6" y="1718.8" width="107.0" height="26.1" fill="#FDCDB5"/>
<rect x="574.6" y="1718.8" width="103.7" height="26.1" fill="#A8061F"/>
<rect x="155.2" y="1744.9" width="104.2" height="25.8" fill="#0098CA"/>
<rect x="259.4" y="1744.9" width="104.0" height="25.8" fill="#16A6D2"/>
<rect x="363.4" y="1744.9" width="104.2" height="25.8" fill="#B6DDED"/>
<rect x="467.6" y="1744.9" width="107.0" height="25.8" fill="#FA9674"/>
<rect x="574.6" y="1744.9" width="103.7" height="25.8" fill="#CE1128"/>
<rect x="155.2" y="1770.7" width="104.2" height="26.6" fill="#4AB3D8"/>
<rect x="259.4" y="1770.7" width="104.0" height="26.6" fill="#006CB0"/>
<rect x="363.4" y="1770.7" width="104.2" height="26.6" fill="#FDD8C6"/>
<rect x="467.6" y="1770.7" width="107.0" height="26.6" fill="#FA8A6A"/>
<rect x="574.6" y="1770.7" width="103.7" height="26.6" fill="#E4443C"/>
<rect x="155.2" y="1797.3" width="104.2" height="22.8" fill="#72C3E0"/>
<rect x="259.4" y="1797.3" width="104.0" height="22.8" fill="#FA9674"/>
<rect x="363.4" y="1797.3" width="104.2" height="22.8" fill="#006CB0"/>
<rect x="467.6" y="1797.3" width="107.0" height="22.8" fill="#DA2A30"/>
<rect x="574.6" y="1797.3" width="103.7" height="22.8" fill="#E6E2E2"/>
<rect x="155.2" y="1820.1" width="104.2" height="25.5" fill="#F0E2DC"/>
<rect x="259.4" y="1820.1" width="104.0" height="25.5" fill="#ECE4E0"/>
<rect x="363.4" y="1820.1" width="104.2" height="25.5" fill="#004E92"/>
<rect x="467.6" y="1820.1" width="107.0" height="25.5" fill="#D92430"/>
<rect x="574.6" y="1820.1" width="103.7" height="25.5" fill="#FDD8C6"/>
<rect x="155.2" y="1845.6" width="104.2" height="25.9" fill="#FDD8C6"/>
<rect x="259.4" y="1845.6" width="104.0" height="25.9" fill="#A9D8E8"/>
<rect x="363.4" y="1845.6" width="104.2" height="25.9" fill="#004A8E"/>
<rect x="467.6" y="1845.6" width="107.0" height="25.9" fill="#F88262"/>
<rect x="574.6" y="1845.6" width="103.7" height="25.9" fill="#F46E56"/>
<rect x="155.2" y="1871.5" width="104.2" height="25.8" fill="#F88262"/>
<rect x="259.4" y="1871.5" width="104.0" height="25.8" fill="#8ACCE4"/>
<rect x="363.4" y="1871.5" width="104.2" height="25.8" fill="#0094C8"/>
<rect x="467.6" y="1871.5" width="107.0" height="25.8" fill="#CE1128"/>
<rect x="574.6" y="1871.5" width="103.7" height="25.8" fill="#62BBDC"/>
<rect x="155.2" y="1897.3" width="104.2" height="25.8" fill="#B0DAEB"/>
<rect x="259.4" y="1897.3" width="104.0" height="25.8" fill="#006CB0"/>
<rect x="363.4" y="1897.3" width="104.2" height="25.8" fill="#D4E4EC"/>
<rect x="467.6" y="1897.3" width="107.0" height="25.8" fill="#C80F26"/>
<rect x="574.6" y="1897.3" width="103.7" height="25.8" fill="#FDC0A4"/>
<rect x="155.2" y="1923.1" width="104.2" height="25.8" fill="#F2E0D8"/>
<rect x="259.4" y="1923.1" width="104.0" height="25.8" fill="#5EBCDC"/>
<rect x="363.4" y="1923.1" width="104.2" height="25.8" fill="#5EBCDC"/>
<rect x="467.6" y="1923.1" width="107.0" height="25.8" fill="#780018"/>
<rect x="574.6" y="1923.1" width="103.7" height="25.8" fill="#98D0E5"/>
<rect x="155.2" y="1948.9" width="104.2" height="22.7" fill="#6AC0DE"/>
<rect x="259.4" y="1948.9" width="104.0" height="22.7" fill="#72C3E0"/>
<rect x="363.4" y="1948.9" width="104.2" height="22.7" fill="#B6DDED"/>
<rect x="467.6" y="1948.9" width="107.0" height="22.7" fill="#740018"/>
<rect x="574.6" y="1948.9" width="103.7" height="22.7" fill="#B6DDED"/>
<path d="M153.9 222.0H679.6M153.9 244.4H679.6M153.9 270.9H679.6M153.9 297.2H679.6M153.9 323.0H679.6M153.9 348.7H679.6M153.9 374.7H679.6M153.9 397.4H679.6M153.9 422.9H679.6M153.9 448.8H679.6M153.9 474.5H679.6M153.9 500.1H679.6M153.9 526.2H679.6M153.9 551.7H679.6M153.9 574.6H679.6M153.9 600.6H679.6M153.9 626.5H679.6M153.9 652.3H679.6M153.9 678.1H679.6M153.9 704.4H679.6M153.9 730.5H679.6M153.9 753.1H679.6M153.9 779.0H679.6M153.9 804.5H679.6M153.9 830.5H679.6M153.9 856.0H679.6M153.9 881.8H679.6M153.9 907.5H679.6M153.9 930.1H679.6M153.9 956.0H679.6M153.9 982.0H679.6M153.9 1007.8H679.6M153.9 1033.9H679.6M153.9 1059.9H679.6M153.9 1086.3H679.6M153.9 1108.6H679.6M153.9 1134.4H679.6M153.9 1160.4H679.6M153.9 1186.1H679.6M153.9 1211.8H679.6M153.9 1237.6H679.6M153.9 1263.3H679.6M153.9 1285.9H679.6M153.9 1311.7H679.6M153.9 1337.5H679.6M153.9 1363.3H679.6M153.9 1389.4H679.6M153.9 1415.5H679.6M153.9 1441.7H679.6M153.9 1464.4H679.6M153.9 1490.1H679.6M153.9 1516.0H679.6M153.9 1541.8H679.6M153.9 1567.3H679.6M153.9 1593.4H679.6M153.9 1619.0H679.6M153.9 1641.6H679.6M153.9 1667.4H679.6M153.9 1693.0H679.6M153.9 1718.8H679.6M153.9 1744.9H679.6M153.9 1770.7H679.6M153.9 1797.3H679.6M153.9 1820.1H679.6M153.9 1845.6H679.6M153.9 1871.5H679.6M153.9 1897.3H679.6M153.9 1923.1H679.6M153.9 1948.9H679.6M153.9 1971.6H679.6M155.2 222.0V1971.6M259.4 222.0V1971.6M363.4 222.0V1971.6M467.6 222.0V1971.6M574.6 222.0V1971.6M678.3 222.0V1971.6" stroke="#9a9a9a" stroke-width="2.6" fill="none"/>
<rect x="155.2" y="183.3" width="104.2" height="25.9" fill="#FF114B"/>
<rect x="259.4" y="183.3" width="104.0" height="25.9" fill="#00D5F2"/>
<rect x="363.4" y="183.3" width="104.2" height="25.9" fill="#FF33E6"/>
<rect x="467.6" y="183.3" width="107.0" height="25.9" fill="#00B33D"/>
<rect x="574.6" y="183.3" width="103.7" height="25.9" fill="#2B63DB"/>
<path d="M153.9 183.3H679.6M153.9 209.2H679.6M155.2 183.3V209.2M259.4 183.3V209.2M363.4 183.3V209.2M467.6 183.3V209.2M574.6 183.3V209.2M678.3 183.3V209.2" stroke="#9a9a9a" stroke-width="2.6" fill="none"/>
<defs><linearGradient id="cb" x1="0" y1="0" x2="0" y2="1">
<stop offset="0.0000" stop-color="#740016"/>
<stop offset="0.0061" stop-color="#7A0018"/>
<stop offset="0.0254" stop-color="#86001C"/>
<stop offset="0.0447" stop-color="#950020"/>
<stop offset="0.0642" stop-color="#A20322"/>
<stop offset="0.0838" stop-color="#B00A24"/>
<stop offset="0.1034" stop-color="#BC0C26"/>
<stop offset="0.1218" stop-color="#CC1228"/>
<stop offset="0.1411" stop-color="#D61E2C"/>
<stop offset="0.1606" stop-color="#DC2A30"/>
<stop offset="0.1796" stop-color="#E43C38"/>
<stop offset="0.1989" stop-color="#EA4C40"/>
<stop offset="0.2184" stop-color="#F05C48"/>
<stop offset="0.2374" stop-color="#F5684F"/>
<stop offset="0.2578" stop-color="#F67258"/>
<stop offset="0.2774" stop-color="#F87E60"/>
<stop offset="0.2969" stop-color="#FA886A"/>
<stop offset="0.3165" stop-color="#FB9470"/>
<stop offset="0.3360" stop-color="#FCA07C"/>
<stop offset="0.3556" stop-color="#FDAC88"/>
<stop offset="0.3754" stop-color="#FDB696"/>
<stop offset="0.3950" stop-color="#FDC0A4"/>
<stop offset="0.4145" stop-color="#FDCAB2"/>
<stop offset="0.4341" stop-color="#FDD4BE"/>
<stop offset="0.4536" stop-color="#FDDCCA"/>
<stop offset="0.4732" stop-color="#F6DDD4"/>
<stop offset="0.4927" stop-color="#EEE0DA"/>
<stop offset="0.5140" stop-color="#E8E0DE"/>
<stop offset="0.5358" stop-color="#D8E3E6"/>
<stop offset="0.5559" stop-color="#CEE4EE"/>
<stop offset="0.5782" stop-color="#C0E2EF"/>
<stop offset="0.5992" stop-color="#B2DCEC"/>
<stop offset="0.6201" stop-color="#A2D5E8"/>
<stop offset="0.6425" stop-color="#95D0E6"/>
<stop offset="0.6620" stop-color="#80C8E2"/>
<stop offset="0.6844" stop-color="#68BEDD"/>
<stop offset="0.7039" stop-color="#4DB5D8"/>
<stop offset="0.7263" stop-color="#28A8D2"/>
<stop offset="0.7458" stop-color="#06A0CE"/>
<stop offset="0.7592" stop-color="#009ECC"/>
<stop offset="0.7844" stop-color="#0096C8"/>
<stop offset="0.8095" stop-color="#0088C0"/>
<stop offset="0.8346" stop-color="#007CB8"/>
<stop offset="0.8598" stop-color="#0070B0"/>
<stop offset="0.8849" stop-color="#0062A8"/>
<stop offset="0.9101" stop-color="#005598"/>
<stop offset="0.9349" stop-color="#004888"/>
<stop offset="0.9601" stop-color="#013C78"/>
<stop offset="0.9852" stop-color="#02306A"/>
<stop offset="1.0000" stop-color="#032A5E"/>
</linearGradient>
<g id="T" font-family="Liberation Sans, sans-serif" font-size="31.4">
<text x="2.30 27.46 47.99 61.51 82.80 104.10 125.20 143.58 155.18 175.71 189.23 209.37 219.03 240.33 261.43" transform="translate(685.60 242.80) scale(0.6040 1)">Parabacteroides</text>
<text x="1.92 23.21 44.32 63.66 84.95 106.25 127.55 148.84 169.95 188.33 199.92 220.45 232.82 242.48 264.73" transform="translate(685.60 268.57) scale(0.6105 1)">Lachnobacterium</text>
<text x="2.49 29.57 49.72 59.37 80.67 102.92 133.87 155.16 175.31 184.97" transform="translate(685.60 294.34) scale(0.6093 1)">Holdemania</text>
<text x="2.30 27.46 48.56 66.94 78.54 99.07 112.59 132.73 142.39 163.69 184.79" transform="translate(685.60 320.11) scale(0.6100 1)">Bacteroides</text>
<text x="2.30 27.46 47.79 58.43 70.03 90.56 104.08 124.23 132.73 142.39" transform="translate(685.60 345.88) scale(0.6114 1)">Sutterella</text>
<text x="2.30 27.46 48.75 70.05 90.58 104.10 125.20 143.58 154.03 163.69 184.98 206.09" transform="translate(685.60 371.65) scale(0.6069 1)">Anaerostipes</text>
<text x="2.30 27.46 48.56 67.71 85.90 95.55 115.70 125.16 143.35 153.01 174.12 192.50 202.94 212.41 231.75 254.00" transform="translate(685.60 397.42) scale(0.6228 1)">Succiniclasticum</text>
<text x="2.49 29.57 50.67 70.01 91.31 112.61 133.13 145.50 155.16" transform="translate(685.60 420.61) scale(0.6073 1)">Roseburia</text>
<text x="2.49 29.57 50.67 68.86 78.52 99.62 118.77 136.96 145.66 156.11 165.76 187.06 207.40 219.57 245.50 254.96 274.30 295.60" transform="translate(685.60 446.38) scale(0.6314 1)">Unclassified.Riken</text>
<text x="2.49 29.57 50.67 68.86 78.52 99.62 118.77 136.96 145.66 156.11 165.76 187.06 207.40 219.38 244.54 265.06 278.59 299.88" transform="translate(685.60 472.15) scale(0.6213 1)">Unclassified.Barne</text>
<text x="2.30 27.46 47.79 59.20 77.77 90.14 99.61 117.79 128.41 159.35 180.65 201.94 223.05" transform="translate(685.60 497.92) scale(0.6153 1)">Butyricimonas</text>
<text x="2.30 26.31 34.81 44.47 65.77 87.07 107.21 115.72 125.38" transform="translate(685.60 523.69) scale(0.5906 1)">Bilophila</text>
<text x="1.92 23.21 44.32 63.66 84.95 106.25 127.35 146.69 166.84 175.73 189.25" transform="translate(685.60 549.46) scale(0.6015 1)">Lachnospira</text>
<text x="1.72 20.87 40.21 61.51 82.80 104.10" transform="translate(685.60 575.23) scale(0.6097 1)">cc_115</text>
<text x="2.30 27.46 47.99 61.51 82.80 103.33 116.85 137.95 157.29 177.63 189.23 209.37 217.88 227.54" transform="translate(685.60 598.42) scale(0.5998 1)">Paraprevotella</text>
<text x="2.49 29.57 50.87 71.39 84.92 106.21 127.51 148.61 166.80 175.31 183.82 193.47 214.58" transform="translate(685.60 624.19) scale(0.6023 1)">Coprobacillus</text>
<text x="2.49 29.57 50.67 68.86 78.52 99.62 118.77 136.96 145.66 156.11 165.76 187.06 207.40 219.38 244.54 265.83 287.13" transform="translate(685.60 649.96) scale(0.6176 1)">Unclassified.S247</text>
<text x="2.49 29.57 50.67 68.86 78.52 99.62 118.77 136.96 145.66 156.11 165.76 187.06 207.40 219.57 246.65 268.90 298.69 308.35" transform="translate(685.60 675.73) scale(0.6288 1)">Unclassified.Rumin</text>
<text x="2.49 28.42 38.08 58.22 66.73 76.20 94.58 106.17 126.70" transform="translate(685.60 701.50) scale(0.6138 1)">Dialister</text>
<text x="2.49 29.57 50.67 68.86 78.52 99.62 118.77 136.96 145.66 156.11 165.76 187.06 207.40 219.57 245.50 255.16 276.26 294.64" transform="translate(685.60 727.27) scale(0.6285 1)">Unclassified.Clost</text>
<text x="2.68 31.70 53.00 73.53 85.90 95.55 116.85 137.95 156.33 167.93 188.46" transform="translate(685.60 753.04) scale(0.6037 1)">Odoribacter</text>
<text x="2.49 29.57 50.67 68.86 78.52 99.62 118.77 136.96 145.66 156.11 165.76 187.06 207.40 219.57 246.65 267.18 279.55 289.01" transform="translate(685.60 776.23) scale(0.6265 1)">Unclassified.Chris</text>
<text x="2.30 27.26 46.41 65.75 86.28 100.75 131.70 152.99 174.10 192.29 201.94" transform="translate(685.60 802.00) scale(0.6136 1)">Akkermansia</text>
<text x="2.30 27.46 48.75 69.86 89.00 108.34 128.49 138.15 158.67 172.00 190.38 201.98 223.28 244.57 265.68 284.06 295.66 316.18" transform="translate(685.60 827.77) scale(0.6156 1)">Phascolarctobacter</text>
<text x="2.68 31.51 50.65 68.84 77.35 85.86 95.52 116.62 135.96 156.11 164.99 178.52" transform="translate(685.60 853.54) scale(0.6084 1)">Oscillospira</text>
<text x="2.49 29.57 50.67 68.86 78.52 99.62 118.77 136.96 145.66 156.11 165.76 187.06 207.40 219.95 250.89 272.19 292.34 301.99" transform="translate(685.60 879.31) scale(0.6233 1)">Unclassified.Mogib</text>
<text x="2.49 29.57 50.87 72.16 92.31 101.97 123.26 144.56 165.66 184.04 195.64 216.17 228.54 238.20 260.45" transform="translate(685.60 905.08) scale(0.6088 1)">Dehalobacterium</text>
<text x="2.11 25.31 45.83 58.20 67.67 85.86 95.52 116.81 137.92 156.30 167.90 188.42" transform="translate(685.60 930.85) scale(0.6194 1)">Turicibacter</text>
<text x="2.30 26.31 35.97 57.07 76.21 94.40 104.06" transform="translate(685.60 954.04) scale(0.6100 1)">Slackia</text>
<text x="2.49 29.57 50.10 63.62 84.92" transform="translate(685.60 979.81) scale(0.6041 1)">Dorea</text>
<text x="2.30 27.26 45.64 56.09 65.75 87.05 109.30 140.05 159.19 178.53 199.64" transform="translate(685.60 1005.58) scale(0.6250 1)">Actinomyces</text>
<text x="2.49 29.57 50.87 71.39 84.92 106.02 125.36 146.46 165.61 184.95 206.05" transform="translate(685.60 1031.35) scale(0.6160 1)">Coprococcus</text>
<text x="2.49 29.57 50.67 68.86 78.52 99.62 118.77 136.96 145.66 156.11 165.76 187.06 207.40 219.57 245.50 255.16 276.26 294.64" transform="translate(685.60 1057.12) scale(0.6322 1)">Unclassified.Clost</text>
<text x="2.49 29.57 50.67 68.86 78.52 99.62 118.77 136.96 145.66 156.11 165.76 187.06 207.40 219.57 246.65 267.18 279.55 289.21" transform="translate(685.60 1082.89) scale(0.6261 1)">Unclassified.Corio</text>
<text x="2.87 33.81 54.15 65.75 87.05 108.34 129.64 150.94 171.46 184.98 206.09 224.28 233.94 255.23 276.33 294.72 306.31 326.84" transform="translate(685.60 1108.66) scale(0.6143 1)">Methanobrevibacter</text>
<text x="2.49 29.57 51.82 81.61 91.27 112.57 133.67 153.01 174.12 193.26 212.60 233.70" transform="translate(685.60 1131.85) scale(0.6174 1)">Ruminococcus</text>
<text x="1.92 23.21 44.32 62.70 74.30 95.40 114.74 135.84 154.99 174.33 195.43" transform="translate(685.60 1157.62) scale(0.6228 1)">Lactococcus</text>
<text x="2.49 29.57 49.72 58.22 66.73 76.39 97.49 116.83 136.98 145.49 155.14" transform="translate(685.60 1183.39) scale(0.6074 1)">Collinsella</text>
<text x="2.30 26.31 35.01 45.45 55.11 76.41 97.70 119.00 140.10 158.48 170.08 190.61 202.98 212.64 234.89" transform="translate(685.60 1209.16) scale(0.6098 1)">Bifidobacterium</text>
<text x="2.49 29.57 50.67 68.86 78.52 99.62 118.77 136.96 145.66 156.11 165.76 187.06 207.40 219.38 244.54 265.83 286.17 297.77" transform="translate(685.60 1234.93) scale(0.6253 1)">Unclassified.Pepto</text>
<text x="2.49 29.57 50.67 68.86 78.52 99.62 118.77 136.96 145.66 156.11 165.76 187.06 207.40 219.38 244.54 265.06 278.59 299.88" transform="translate(685.60 1260.70) scale(0.6211 1)">Unclassified.Parap</text>
<text x="2.49 29.57 50.67 68.86 78.52 99.62 118.77 136.96 145.66 156.11 165.76 187.06 207.40 219.38 244.92 270.08" transform="translate(685.60 1286.47) scale(0.6218 1)">Unclassified.YS2</text>
<text x="2.49 29.57 50.67 68.86 78.52 99.62 118.77 136.96 145.66 156.11 165.76 187.06 207.40 219.00 240.29 261.40 280.74 302.03" transform="translate(685.60 1309.66) scale(0.6249 1)">Unclassified.Lachn</text>
<text x="2.87 33.81 55.11 76.41 98.66 129.60 150.90 172.20 193.30" transform="translate(685.60 1335.43) scale(0.6048 1)">Megamonas</text>
<text x="2.30 27.46 47.79 59.20 77.77 90.14 99.61 117.79 127.45 147.98 160.35 170.01" transform="translate(685.60 1361.20) scale(0.6193 1)">Butyrivibrio</text>
<text x="1.92 23.21 44.32 62.70 74.30 95.59 116.89 137.99 156.18 164.69 173.19 182.85 203.96" transform="translate(685.60 1386.97) scale(0.6127 1)">Lactobacillus</text>
<text x="2.30 27.46 48.75 70.05 90.58 103.14 114.74 136.03 156.18 164.69 174.35" transform="translate(685.60 1412.74) scale(0.6003 1)">Eggerthella</text>
<text x="2.49 29.57 50.67 70.01 90.16 98.86 110.46 131.56 149.75 159.41 179.93 192.30 201.96" transform="translate(685.60 1438.51) scale(0.6180 1)">Desulfovibrio</text>
<text x="2.49 29.57 50.67 68.86 78.52 99.62 118.77 136.96 145.66 156.11 165.76 187.06 207.40 219.57 246.84 270.04 291.34" transform="translate(685.60 1464.28) scale(0.6254 1)">Unclassified.RF39</text>
<text x="2.49 29.57 50.67 68.86 78.52 99.62 118.77 136.96 145.66 156.11 165.76 187.06 207.40 219.38 244.54 265.64 284.02 295.62" transform="translate(685.60 1487.47) scale(0.6298 1)">Unclassified.Bacte</text>
<text x="2.49 29.57 50.67 68.86 78.52 99.62 118.77 136.96 145.66 156.11 165.76 187.06 207.40 219.18 243.34 274.28 295.58" transform="translate(685.60 1513.24) scale(0.6298 1)">Unclassified.TM73</text>
<text x="2.30 26.69 40.21 61.31 80.65 100.99 112.59 132.73 141.24 150.90" transform="translate(685.60 1539.01) scale(0.6049 1)">Prevotella</text>
<text x="2.30 27.46 48.75 69.09 80.69 101.79 121.13 142.24 161.38 180.72 201.82" transform="translate(685.60 1564.78) scale(0.6187 1)">Peptococcus</text>
<text x="2.30 27.46 47.60 57.26 77.79 91.12 109.69 123.21 144.50 164.84 176.25 194.44 204.09" transform="translate(685.60 1590.55) scale(0.6077 1)">Adlercreutzia</text>
<text x="2.87 33.81 55.11 76.41 97.51 116.85 138.15 159.44 180.74 201.27 214.79" transform="translate(685.60 1616.32) scale(0.6017 1)">Megasphaera</text>
<text x="2.49 29.57 49.91 61.51 82.80 102.95 112.61 133.90 155.01 173.39 184.98 205.51 217.88 227.54 249.79" transform="translate(685.60 1642.09) scale(0.6138 1)">Catenibacterium</text>
<text x="2.30 27.26 45.45 55.11 76.41 98.66 128.45 138.11 159.41 180.51 199.85 220.95 240.10 259.44 280.54" transform="translate(685.60 1665.28) scale(0.6167 1)">Acidaminococcus</text>
<text x="2.30 26.31 35.97 57.26 77.60 88.05 97.70" transform="translate(685.60 1691.05) scale(0.5902 1)">Blautia</text>
<text x="2.49 29.57 49.91 61.51 81.65 91.31" transform="translate(685.60 1716.82) scale(0.6062 1)">Rothia</text>
<text x="2.30 27.46 48.75 70.05 91.15 109.53 121.13 141.66 154.03 163.69 185.94" transform="translate(685.60 1742.59) scale(0.6053 1)">Eubacterium</text>
<text x="2.49 29.57 50.67 68.86 78.52 99.62 118.77 136.96 145.66 156.11 165.76 187.06" transform="translate(685.60 1768.36) scale(0.6354 1)">Unclassified</text>
<text x="2.30 26.50 37.33 50.85 72.14 92.48 104.08 125.18 144.52 165.63 184.77 204.11 225.22" transform="translate(685.60 1794.13) scale(0.6180 1)">Streptococcus</text>
<text x="2.11 25.31 46.60 67.71 87.05 107.19 115.70 125.36 146.65 167.76 186.14 197.74 218.26 230.63 240.29 262.54" transform="translate(685.60 1819.90) scale(0.6151 1)">Faecalibacterium</text>
<text x="2.30 27.46 47.60 56.11 64.62 74.28 95.57 116.87 137.02 145.52 155.18" transform="translate(685.60 1843.09) scale(0.5901 1)">Veillonella</text>
<text x="2.49 28.42 38.08 59.18 77.56 88.39 100.76 110.42 130.56 140.22 162.47" transform="translate(685.60 1868.86) scale(0.6154 1)">Clostridium</text>
<text x="2.49 29.57 50.67 68.86 78.52 99.62 118.77 136.96 145.66 156.11 165.76 187.06 207.40 219.38 244.54 264.87 276.47 297.00" transform="translate(685.60 1894.63) scale(0.6241 1)">Unclassified.Enter</text>
<text x="2.49 29.57 50.67 68.86 78.52 99.62 118.77 136.96 145.66 156.11 165.76 187.06 207.40 219.38 243.77 257.09 276.24 294.43" transform="translate(685.60 1920.40) scale(0.6345 1)">Unclassified.Erysi</text>
<text x="2.30 27.46 48.56 67.71 85.90 95.55 115.70 125.16 143.35 153.01 173.54 185.91 195.57" transform="translate(685.60 1946.17) scale(0.6126 1)">Succinivibrio</text>
<text x="2.30 27.46 47.79 59.39 79.92 93.44 114.54 133.88 154.99 174.13 193.47 214.58" transform="translate(685.60 1971.94) scale(0.6153 1)">Enterococcus</text>
<text font-weight="bold" transform="translate(687.1 210.2) scale(0.703 1)">class</text>
<text transform="translate(197.6 1983.0) rotate(90) scale(0.943 0.74)">A1</text>
<text transform="translate(302.2 1983.0) rotate(90) scale(0.943 0.74)">B2</text>
<text transform="translate(408.6 1983.0) rotate(90) scale(0.943 0.74)">B3</text>
<text transform="translate(512.9 1983.0) rotate(90) scale(0.943 0.74)">A2</text>
<text transform="translate(617.2 1983.0) rotate(90) scale(0.943 0.74)">B1</text>
<text transform="translate(946.7 230.3) scale(0.770 1)">1.5</text>
<text transform="translate(946.7 298.6) scale(0.770 1)">1</text>
<text transform="translate(946.7 366.9) scale(0.770 1)">0.5</text>
<text transform="translate(946.7 435.3) scale(0.770 1)">0</text>
<text transform="translate(946.7 503.7) scale(0.770 1)">-0.5</text>
<text transform="translate(946.7 572.0) scale(0.770 1)">-1</text>
<text transform="translate(946.7 640.3) scale(0.770 1)">-1.5</text>
<text font-weight="bold" transform="translate(999.5 204.5) scale(0.703 1)">class</text>
<text transform="translate(1039.0 249.3) scale(0.728 1)">A1</text>
<text transform="translate(1039.0 295.2) scale(0.728 1)">A2</text>
<text transform="translate(1039.0 341.1) scale(0.728 1)">B1</text>
<text transform="translate(1039.0 387.1) scale(0.728 1)">B2</text>
<text transform="translate(1039.0 432.9) scale(0.728 1)">B3</text>
</g></defs>
<rect x="911.7" y="178.6" width="27.7" height="488.9" fill="url(#cb)"/>
<rect x="997.5" y="215.4" width="34.2" height="45.9" fill="#FF114B"/>
<rect x="997.5" y="261.3" width="34.2" height="45.9" fill="#00B33D"/>
<rect x="997.5" y="307.2" width="34.2" height="45.9" fill="#2B63DB"/>
<rect x="997.5" y="353.1" width="34.2" height="45.9" fill="#00D5F2"/>
<rect x="997.5" y="399.0" width="34.2" height="45.9" fill="#FF33E6"/>
<path d="M997.5 215.4H1031.7M997.5 261.3H1031.7M997.5 307.2H1031.7M997.5 353.1H1031.7M997.5 399.0H1031.7M997.5 444.9H1031.7M997.5 214.6V445.7M1031.7 214.6V445.7" stroke="#9a9a9a" stroke-width="1.8" fill="none"/>
<use href="#T" fill="#f0c040" fill-opacity="0.75" transform="translate(-1.00 0)"/>
<use href="#T" fill="#20c0f0" fill-opacity="0.75" transform="translate(1.00 0)"/>
<use href="#T" fill="#383850"/>
</svg>
</body></html>
